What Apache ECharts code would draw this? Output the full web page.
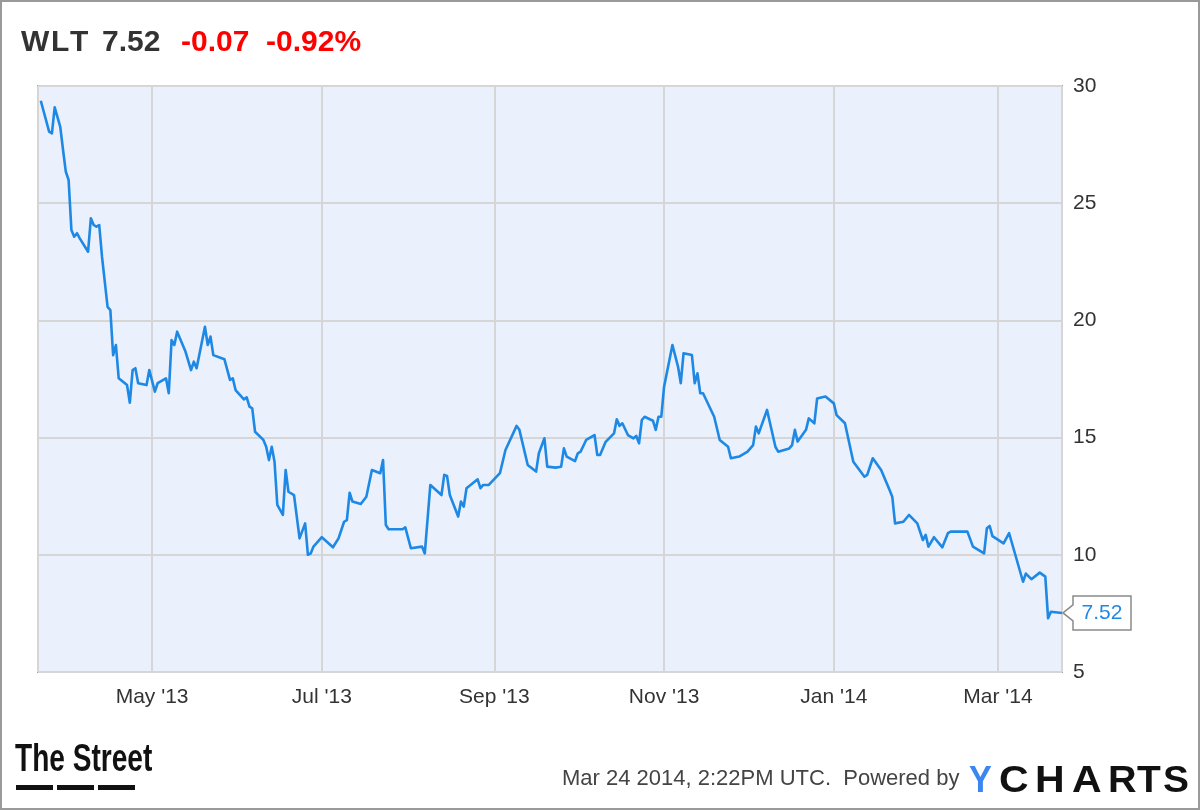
<!DOCTYPE html>
<html>
<head>
<meta charset="utf-8">
<script src="https://cdn.jsdelivr.net/npm/echarts@6/dist/echarts.min.js"></script>
<style>
  html, body { margin: 0; padding: 0; background: #fff; }
  #chart { width: 1200px; height: 810px; }
</style>
</head>
<body>
<div id="chart"></div>
<script>
// ---- Data ----
const ticker = 'WLT';
const lastPrice = '7.52';
const change = '-0.07';
const changePct = '-0.92%';
const timestampText = 'Mar 24 2014, 2:22PM UTC.  Powered by';

const dates = [
  '2013-03-22','2013-03-25','2013-03-26','2013-03-27','2013-03-29','2013-03-30','2013-03-31','2013-04-01','2013-04-02','2013-04-03',
  '2013-04-04','2013-04-05','2013-04-08','2013-04-09','2013-04-10','2013-04-11','2013-04-12','2013-04-13','2013-04-15','2013-04-16',
  '2013-04-17','2013-04-18','2013-04-19','2013-04-22','2013-04-23','2013-04-24','2013-04-25','2013-04-26','2013-04-29','2013-04-30',
  '2013-05-02','2013-05-03','2013-05-06','2013-05-07','2013-05-08','2013-05-09','2013-05-10','2013-05-13','2013-05-15','2013-05-16',
  '2013-05-17','2013-05-20','2013-05-21','2013-05-22','2013-05-23','2013-05-27','2013-05-29','2013-05-30','2013-05-31','2013-06-03',
  '2013-06-04','2013-06-05','2013-06-06','2013-06-07','2013-06-10','2013-06-11','2013-06-12','2013-06-13','2013-06-14','2013-06-15',
  '2013-06-17','2013-06-18','2013-06-19','2013-06-21','2013-06-23','2013-06-25','2013-06-26','2013-06-27','2013-06-28','2013-07-01',
  '2013-07-05','2013-07-07','2013-07-09','2013-07-10','2013-07-11','2013-07-12','2013-07-15','2013-07-17','2013-07-19','2013-07-22',
  '2013-07-23','2013-07-24','2013-07-25','2013-07-30','2013-07-31','2013-08-02','2013-08-06','2013-08-07','2013-08-09','2013-08-13',
  '2013-08-14','2013-08-15','2013-08-16','2013-08-19','2013-08-20','2013-08-21','2013-08-22','2013-08-26','2013-08-27','2013-08-28',
  '2013-08-30','2013-09-03','2013-09-05','2013-09-09','2013-09-10','2013-09-13','2013-09-16','2013-09-17','2013-09-19','2013-09-20',
  '2013-09-23','2013-09-25','2013-09-26','2013-09-27','2013-09-30','2013-10-01','2013-10-02','2013-10-04','2013-10-07','2013-10-08',
  '2013-10-09','2013-10-11','2013-10-14','2013-10-15','2013-10-16','2013-10-17','2013-10-19','2013-10-21','2013-10-22','2013-10-23',
  '2013-10-24','2013-10-25','2013-10-28','2013-10-29','2013-10-30','2013-10-31','2013-11-01','2013-11-04','2013-11-06','2013-11-07',
  '2013-11-08','2013-11-11','2013-11-12','2013-11-13','2013-11-14','2013-11-15','2013-11-19','2013-11-21','2013-11-24','2013-11-25',
  '2013-11-28','2013-12-01','2013-12-03','2013-12-04','2013-12-05','2013-12-08','2013-12-11','2013-12-12','2013-12-16','2013-12-17',
  '2013-12-18','2013-12-19','2013-12-22','2013-12-23','2013-12-25','2013-12-26','2013-12-29','2014-01-01','2014-01-02','2014-01-05',
  '2014-01-08','2014-01-12','2014-01-13','2014-01-15','2014-01-18','2014-01-21','2014-01-22','2014-01-23','2014-01-26','2014-01-28',
  '2014-01-31','2014-02-02','2014-02-03','2014-02-04','2014-02-06','2014-02-09','2014-02-11','2014-02-12','2014-02-18','2014-02-20',
  '2014-02-24','2014-02-25','2014-02-26','2014-02-27','2014-03-03','2014-03-05','2014-03-10','2014-03-11','2014-03-13','2014-03-16',
  '2014-03-18','2014-03-19','2014-03-20','2014-03-24'
];
const prices = [
  29.37,28.05,27.98,29.09,28.26,27.27,26.34,25.99,23.86,23.57,
  23.72,23.50,22.93,24.36,24.07,24.00,24.07,22.72,20.58,20.44,
  18.52,18.95,17.53,17.24,16.49,17.88,17.96,17.32,17.24,17.88,
  16.96,17.32,17.53,16.89,19.16,18.95,19.52,18.67,17.88,18.24,
  17.96,19.73,18.95,19.31,18.52,18.34,17.46,17.53,17.03,16.63,
  16.72,16.32,16.25,15.25,14.90,14.61,14.04,14.61,13.97,12.13,
  11.70,13.62,12.69,12.55,10.70,11.34,10.00,10.06,10.35,10.75,
  10.32,10.70,11.41,11.48,12.65,12.27,12.17,12.48,13.62,13.48,
  14.04,11.27,11.09,11.09,11.17,10.28,10.35,10.06,12.98,12.55,
  13.41,13.36,12.55,11.63,12.27,12.06,12.84,13.22,12.84,12.98,
  12.98,13.48,14.47,15.50,15.33,13.83,13.55,14.33,14.97,13.76,
  13.72,13.76,14.54,14.19,14.00,14.33,14.40,14.90,15.11,14.26,
  14.26,14.82,15.18,15.78,15.50,15.61,15.11,14.97,15.07,14.76,
  15.75,15.89,15.72,15.33,15.89,15.89,17.17,18.95,18.03,17.32,
  18.60,18.52,17.32,17.74,16.89,16.89,15.89,14.90,14.61,14.12,
  14.19,14.40,14.68,15.47,15.18,16.18,14.61,14.40,14.54,14.68,
  15.33,14.83,15.33,15.82,15.61,16.67,16.75,16.46,15.96,15.61,
  13.97,13.33,13.41,14.12,13.62,12.77,12.48,11.34,11.41,11.70,
  11.34,10.63,10.85,10.35,10.75,10.32,10.92,10.99,10.99,10.35,
  10.06,11.13,11.23,10.80,10.49,10.92,8.85,9.20,8.96,9.24,
  9.07,7.29,7.57,7.52
];
const xRange = ['2013-03-21', '2014-03-24'];
const yTicks = [5, 10, 15, 20, 25, 30];
const monthNames = ['Jan','Feb','Mar','Apr','May','Jun','Jul','Aug','Sep','Oct','Nov','Dec'];

// ---- Chart ----
function parseDate(s) { const p = s.split('-').map(Number); return new Date(p[0], p[1] - 1, p[2]).getTime(); }
const seriesData = dates.map((d, i) => [parseDate(d), prices[i]]);

const chart = echarts.init(document.getElementById('chart'), null, { renderer: 'canvas' });
const BLUE = '#1e88e5';
const FONT = "'Liberation Sans', Arial, sans-serif";

const option = {
  animation: false,
  backgroundColor: '#ffffff',
  grid: {
    left: 38, right: 138, top: 86, bottom: 138,
    show: true, backgroundColor: '#eaf0fc', borderColor: '#a3a3a3', borderWidth: 2
  },
  xAxis: {
    type: 'time',
    min: parseDate(xRange[0]),
    max: parseDate(xRange[1]),
    splitNumber: 5,
    axisLine: { show: false },
    axisTick: { show: false },
    splitLine: { show: true, lineStyle: { color: '#d6d6d6', width: 2 } },
    axisLabel: {
      color: '#333', fontSize: 21, fontFamily: FONT, margin: 15,
      hideOverlap: false,
      formatter: function (v) {
        const d = new Date(v);
        return monthNames[d.getMonth()] + " '" + String(d.getFullYear()).slice(2);
      }
    }
  },
  yAxis: {
    type: 'value',
    position: 'right',
    min: yTicks[0], max: yTicks[yTicks.length - 1], interval: 5,
    axisLine: { show: false },
    axisTick: { show: false },
    splitLine: { show: true, lineStyle: { color: '#d6d6d6', width: 2 } },
    axisLabel: { color: '#333', fontSize: 21, fontFamily: FONT, margin: 11 }
  },
  series: [{
    type: 'line',
    data: seriesData,
    showSymbol: false,
    symbol: 'none',
    lineStyle: { color: BLUE, width: 2.6, join: 'round' },
    z: 5
  }],
  graphic: []
};
chart.setOption(option);

// Header, footer, end-value tag
const last = seriesData[seriesData.length - 1];
const pt = chart.convertToPixel({ xAxisIndex: 0, yAxisIndex: 0 }, last);
const tx = pt[0] + 1, ty = pt[1];
const bx = tx + 10, bw = 58, bh = 34;

const TITLE_FONT = "bold 30px " + FONT;
const LOGO_FONT = "bold 36px " + FONT;
function letter(ch, x, color, sx) {
  return { type: 'text', x: x, y: 764, scaleX: sx, style: { x: 0, y: 0, text: ch, fill: color, font: LOGO_FONT, verticalAlign: 'top' } };
}

const graphics = [
  // outer frame
  { type: 'rect', shape: { x: 1, y: 1, width: 1198, height: 808 }, style: { fill: 'none', stroke: '#9a9a9a', lineWidth: 2 }, silent: true, z: 100 },
  // title pieces
  { type: 'text', left: 21, top: 28, style: { text: ticker[0], fill: '#333', font: TITLE_FONT } },
  { type: 'text', left: 51, top: 28, style: { text: ticker[1], fill: '#333', font: TITLE_FONT } },
  { type: 'text', left: 70, top: 28, style: { text: ticker[2], fill: '#333', font: TITLE_FONT } },
  { type: 'text', left: 102, top: 28, style: { text: lastPrice, fill: '#333', font: TITLE_FONT } },
  { type: 'text', left: 181, top: 28, style: { text: change, fill: '#ff0000', font: TITLE_FONT } },
  { type: 'text', left: 266, top: 28, style: { text: changePct, fill: '#ff0000', font: TITLE_FONT } },
  // end value tag
  { type: 'polygon', shape: { points: [[tx, ty], [bx, ty - 8], [bx, ty - bh / 2], [bx + bw, ty - bh / 2], [bx + bw, ty + bh / 2], [bx, ty + bh / 2], [bx, ty + 8]] },
    style: { fill: '#fff', stroke: '#8a8a8a', lineWidth: 1.5 }, z: 20 },
  { type: 'text', x: bx + bw / 2, y: ty, style: { text: lastPrice, fill: BLUE, font: "21px " + FONT, textAlign: 'center', textVerticalAlign: 'middle' }, z: 21 },
  // footer: The Street logo
  { type: 'text', x: 15, y: 741, scaleX: 0.72, style: { x: 0, y: 0, text: 'The Street', fill: '#111', font: "bold 39px " + FONT, verticalAlign: 'top' } },
  { type: 'rect', shape: { x: 16, y: 785, width: 37, height: 5 }, style: { fill: '#111' } },
  { type: 'rect', shape: { x: 57, y: 785, width: 37, height: 5 }, style: { fill: '#111' } },
  { type: 'rect', shape: { x: 98, y: 785, width: 37, height: 5 }, style: { fill: '#111' } },
  // footer: timestamp
  { type: 'text', left: 562, top: 768, style: { text: timestampText, fill: '#444', font: "22px " + FONT } },
  // footer: YCHARTS logo
  letter('Y', 969, '#3b86f0', 0.95),
  letter('C', 999, '#111', 1.14),
  letter('H', 1035, '#111', 1.14),
  letter('A', 1072, '#111', 1.14),
  letter('R', 1108, '#111', 1.1),
  letter('T', 1137, '#111', 1.08),
  letter('S', 1163, '#111', 1.08)
];
chart.setOption({ graphic: graphics });
</script>
</body>
</html>
